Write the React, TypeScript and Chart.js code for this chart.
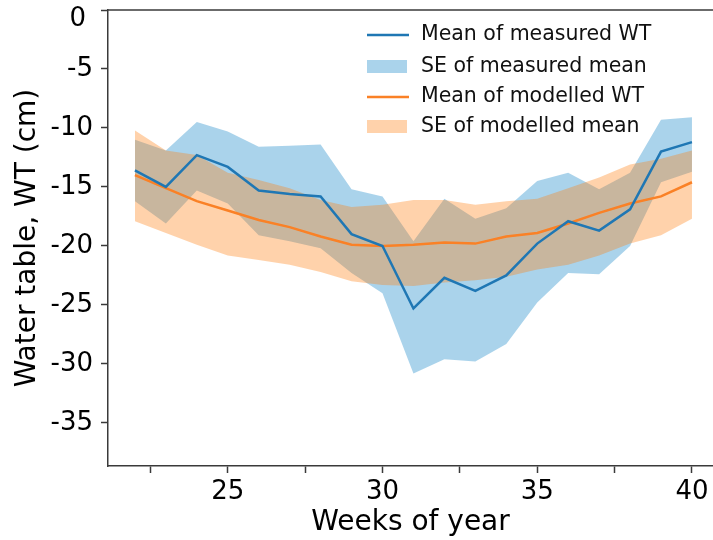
import React, { useEffect, useRef } from "react";
import { Chart, registerables } from "chart.js";

Chart.register(...registerables);

const weeks = [22, 23, 24, 25, 26, 27, 28, 29, 30, 31, 32, 33, 34, 35, 36, 37, 38, 39, 40];

const measuredMean = [-13.6, -15.0, -12.3, -13.3, -15.3, -15.6, -15.8, -19.0, -20.0, -25.3, -22.7, -23.8, -22.5, -19.8, -17.9, -18.7, -16.9, -12.0, -11.2];
const measuredUpper = [-11.0, -11.9, -9.5, -10.3, -11.6, -11.5, -11.4, -15.2, -15.8, -19.6, -16.0, -17.7, -16.8, -14.5, -13.8, -15.2, -13.8, -9.3, -9.1];
const measuredLower = [-16.2, -18.1, -15.3, -16.4, -19.1, -19.6, -20.2, -22.3, -24.0, -30.8, -29.6, -29.8, -28.3, -24.8, -22.3, -22.4, -20.0, -14.6, -13.7];

const modelledMean = [-14.0, -15.1, -16.2, -17.0, -17.8, -18.4, -19.2, -19.9, -20.0, -19.9, -19.7, -19.8, -19.2, -18.9, -18.1, -17.2, -16.4, -15.8, -14.6];
const modelledUpper = [-10.2, -11.9, -12.3, -13.8, -14.4, -15.1, -16.1, -16.7, -16.5, -16.1, -16.1, -16.5, -16.2, -16.0, -15.1, -14.2, -13.1, -12.6, -11.9];
const modelledLower = [-17.9, -18.9, -19.9, -20.8, -21.2, -21.6, -22.2, -23.0, -23.3, -23.4, -23.1, -22.9, -22.6, -22.0, -21.6, -20.8, -19.8, -19.1, -17.7];

const xTicks = [22.5, 25, 27.5, 30, 32.5, 35, 37.5, 40];
const xLabeled = [25, 30, 35, 40];
const yTicks = [0, -5, -10, -15, -20, -25, -30, -35];
const topYLabel = "0";

const legendLabels = ["Mean of measured WT", "SE of measured mean", "Mean of modelled WT", "SE of modelled mean"];

const BLUE = "#1f77b4";
const ORANGE = "#fa8126";
const BLUE_BAND = "rgba(130,190,225,0.68)";
const ORANGE_BAND = "rgba(255,127,14,0.35)";
const AXIS = "#3a3a3a";
const FONT = "'DejaVu Sans', sans-serif";

const pts = (arr: number[]) => weeks.map((w, i) => ({ x: w, y: arr[i] }));

const framePlugin = {
  id: "frameAndLegend",
  afterDraw(chart: any) {
    const { ctx, chartArea } = chart;
    ctx.save();
    // top frame line
    ctx.strokeStyle = AXIS;
    ctx.lineWidth = 1.5;
    ctx.beginPath();
    ctx.moveTo(chartArea.left, chartArea.top);
    ctx.lineTo(chartArea.right, chartArea.top);
    ctx.stroke();

    // top y label (sits just below its tick in the reference)
    ctx.fillStyle = "#000";
    ctx.font = `26px ${FONT}`;
    ctx.textAlign = "right";
    ctx.textBaseline = "middle";
    ctx.fillText(topYLabel, 86, chartArea.top + 9);

    // legend
    const x0 = 367;
    const x1 = 409;
    const rows = [35, 67, 97, 127];
    ctx.lineWidth = 2.5;
    ctx.strokeStyle = BLUE;
    ctx.beginPath();
    ctx.moveTo(x0, rows[0]);
    ctx.lineTo(x1, rows[0]);
    ctx.stroke();
    ctx.fillStyle = BLUE_BAND;
    ctx.fillRect(x0, rows[1] - 7, x1 - x0 - 2, 13);
    ctx.strokeStyle = ORANGE;
    ctx.beginPath();
    ctx.moveTo(x0, rows[2]);
    ctx.lineTo(x1, rows[2]);
    ctx.stroke();
    ctx.fillStyle = ORANGE_BAND;
    ctx.fillRect(x0, rows[3] - 7, x1 - x0 - 2, 13);

    ctx.fillStyle = "#111";
    ctx.font = `20.5px ${FONT}`;
    ctx.textBaseline = "middle";
    ctx.textAlign = "left";
    legendLabels.forEach((t, i) => ctx.fillText(t, 421, rows[i]));
    ctx.restore();
  },
};

export default function App() {
  const ref = useRef<HTMLCanvasElement | null>(null);

  useEffect(() => {
    if (!ref.current) return;
    const bandCommon = { pointRadius: 0, borderWidth: 0, tension: 0 };
    const chart = new Chart(ref.current, {
      type: "line",
      data: {
        datasets: [
          { label: "SE measured upper", data: pts(measuredUpper), ...bandCommon, backgroundColor: BLUE_BAND, borderColor: "transparent", fill: "+1", order: 6 },
          { label: "SE measured lower", data: pts(measuredLower), ...bandCommon, borderColor: "transparent", fill: false, order: 5 },
          { label: "SE modelled upper", data: pts(modelledUpper), ...bandCommon, backgroundColor: ORANGE_BAND, borderColor: "transparent", fill: "+1", order: 4 },
          { label: "SE modelled lower", data: pts(modelledLower), ...bandCommon, borderColor: "transparent", fill: false, order: 3 },
          { label: legendLabels[2], data: pts(modelledMean), borderColor: ORANGE, borderWidth: 2.5, pointRadius: 0, fill: false, tension: 0, order: 2 },
          { label: legendLabels[0], data: pts(measuredMean), borderColor: BLUE, borderWidth: 2.5, pointRadius: 0, fill: false, tension: 0, order: 1 },
        ],
      },
      options: {
        responsive: false,
        animation: false,
        devicePixelRatio: 1,
        layout: { padding: { top: 10, right: 0, bottom: 0, left: 0 } },
        plugins: { legend: { display: false }, tooltip: { enabled: false } },
        scales: {
          x: {
            type: "linear",
            min: 21.13,
            max: 40.68,
            afterBuildTicks: (s: any) => {
              s.ticks = xTicks.map((v) => ({ value: v }));
            },
            afterFit: (s: any) => {
              s.height = 74;
              s.paddingLeft = 0;
              s.paddingRight = 0;
            },
            ticks: {
              autoSkip: false,
              maxRotation: 0,
              padding: 4,
              color: "#000",
              font: { size: 26, family: FONT },
              callback: (v: any) => (xLabeled.includes(Number(v)) ? String(v) : ""),
            },
            grid: { drawOnChartArea: false, drawTicks: true, tickLength: 7, tickColor: AXIS, tickWidth: 1.5 },
            border: { display: true, color: AXIS, width: 1.5 },
            title: { display: true, text: "Weeks of year", color: "#000", font: { size: 28, family: FONT }, padding: { top: 0, bottom: 0 } },
          },
          y: {
            type: "linear",
            min: -38.65,
            max: 0,
            afterBuildTicks: (s: any) => {
              s.ticks = yTicks.map((v) => ({ value: v }));
            },
            afterFit: (s: any) => {
              s.width = 108;
              s.paddingTop = 0;
              s.paddingBottom = 0;
            },
            ticks: {
              autoSkip: false,
              padding: 8,
              color: "#000",
              font: { size: 26, family: FONT },
              callback: (v: any) => (Number(v) === 0 ? "" : String(v)),
            },
            grid: { drawOnChartArea: false, drawTicks: true, tickLength: 7, tickColor: AXIS, tickWidth: 1.5 },
            border: { display: true, color: AXIS, width: 1.5 },
            title: { display: true, text: "Water table, WT (cm)", color: "#000", font: { size: 28, family: FONT }, padding: { top: 11, bottom: 0 } },
          },
        },
      },
      plugins: [framePlugin],
    } as any);
    return () => chart.destroy();
  }, []);

  return (
    <div style={{ position: "absolute", left: 0, top: 0, width: 713, height: 540, background: "#fff" }}>
      <canvas ref={ref} width={713} height={540} style={{ width: 713, height: 540, display: "block" }} />
    </div>
  );
}
